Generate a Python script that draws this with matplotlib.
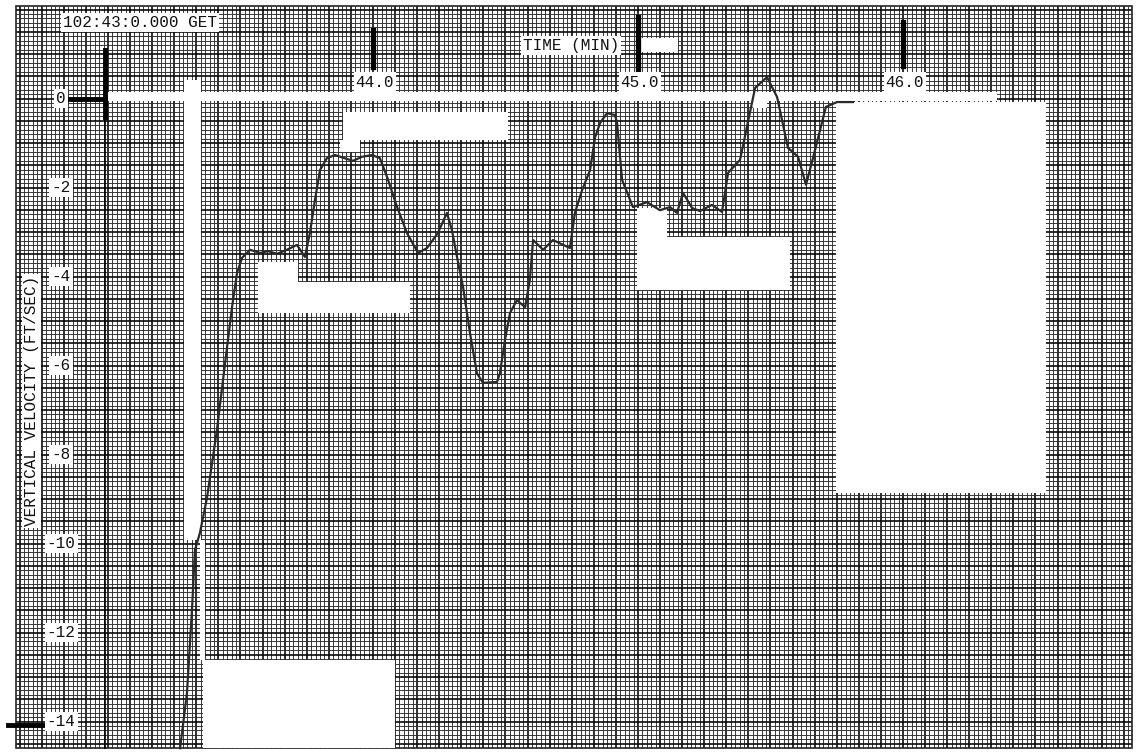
# vertikalni rychlost pri pristani - skenovany graf na milimetrovem papire
import numpy as np
import matplotlib.pyplot as plt
from matplotlib.patches import Rectangle

# cas [min od 102:00 GET] a vertikalni rychlost [ft/s]
time_min = [43.272, 43.298, 43.317, 43.328, 43.347, 43.374, 43.411, 43.442, 43.468, 43.487,
            43.506, 43.536, 43.574, 43.604, 43.638, 43.675, 43.713, 43.743, 43.762, 43.781,
            43.800, 43.826, 43.857, 43.902, 43.925, 43.958, 43.996, 44.026, 44.053, 44.091,
            44.128, 44.170, 44.204, 44.245, 44.279, 44.298, 44.317, 44.340, 44.366, 44.392,
            44.415, 44.468, 44.479, 44.498, 44.517, 44.543, 44.574, 44.592, 44.604, 44.642,
            44.679, 44.743, 44.762, 44.789, 44.819, 44.838, 44.857, 44.883, 44.913, 44.921,
            44.940, 44.981, 45.034, 45.083, 45.121, 45.147, 45.170, 45.204, 45.234, 45.279,
            45.317, 45.340, 45.385, 45.442, 45.487, 45.525, 45.566, 45.604, 45.634, 45.668,
            45.709, 45.751, 45.811]
vel_fps = [-14.60, -13.36, -11.49, -10.15, -9.76, -8.96, -7.45, -5.94, -4.69, -3.92,
           -3.58, -3.40, -3.47, -3.43, -3.49, -3.40, -3.29, -3.56, -3.02, -2.28,
           -1.61, -1.34, -1.27, -1.36, -1.40, -1.31, -1.27, -1.34, -1.76, -2.44,
           -3.02, -3.47, -3.36, -3.02, -2.57, -2.96, -3.56, -4.24, -5.27, -6.17,
           -6.39, -6.37, -6.17, -5.43, -4.82, -4.53, -4.69, -4.08, -3.18, -3.40,
           -3.18, -3.36, -2.57, -2.06, -1.61, -0.87, -0.55, -0.33, -0.37, -0.55,
           -1.83, -2.44, -2.33, -2.51, -2.44, -2.57, -2.12, -2.46, -2.53, -2.39,
           -2.55, -1.67, -1.38, 0.24, 0.48, 0.03, -1.11, -1.31, -1.94, -1.16,
           -0.19, -0.08, -0.08]

# popisky os
x_ticks = [44.0, 45.0, 46.0]
x_tick_labels = ['44.0', '45.0', '46.0']
y_ticks = [0, -2, -4, -6, -8, -10, -12, -14]
y_tick_labels = ['0', '-2', '-4', '-6', '-8', '-10', '-12', '-14']

# vybelene oblasti na skenu: (x0, x1, y0, y1)
white_boxes = [
    (43.287, 43.351, -9.92, 0.42),
    (43.349, 43.366, -12.62, -9.92),
    (42.993, 46.355, -0.056, 0.146),
    (43.887, 44.509, -0.933, -0.303),
    (43.875, 43.951, -1.20, -0.933),
    (43.566, 43.717, -4.12, -3.67),
    (43.566, 44.140, -4.82, -4.12),
    (44.996, 45.109, -3.11, -2.46),
    (44.996, 45.574, -4.30, -3.11),
    (45.747, 46.540, -8.865, -0.079),
    (43.358, 44.083, -14.60, -12.62),
    (45.008, 45.151, 1.05, 1.36),
    (45.434, 45.487, -0.21, 0.146),
]

# okraje papiru
PX0, PX1 = 42.653, 46.864
PY0, PY1 = -14.596, 2.079

fig = plt.figure(figsize=(11.38, 7.54), dpi=100)
ax = fig.add_axes([0, 0, 1, 1])
ax.set_xlim(42.5925, 46.8868)
ax.set_ylim(-14.730, 2.2135)
ax.axis('off')

# mrizka - po 1 s a 0.1 ft/s, silnejsi po 5 s a 0.5 ft/s
secs = np.arange(np.ceil(PX0 * 60), np.floor(PX1 * 60) + 1)
ax.vlines(secs[secs % 5 != 0] / 60, PY0, PY1, colors='#2c2c2c', lw=0.65, zorder=1)
ax.vlines(secs[secs % 5 == 0] / 60, PY0, PY1, colors='#0a0a0a', lw=1.2, zorder=1)
tenths = np.arange(np.ceil(PY0 * 10), np.floor(PY1 * 10) + 1)
ax.hlines(tenths[tenths % 5 != 0] / 10, PX0, PX1, colors='#2c2c2c', lw=0.65, zorder=1)
ax.hlines(tenths[tenths % 5 == 0] / 10, PX0, PX1, colors='#0a0a0a', lw=1.2, zorder=1)
ax.add_patch(Rectangle((PX0, PY0), PX1 - PX0, PY1 - PY0, fc='none', ec='#222222', lw=1.2, zorder=2))

for x0, x1, y0, y1 in white_boxes:
    ax.add_patch(Rectangle((x0, y0), x1 - x0, y1 - y0, fc='white', ec='none', zorder=3))

# osa y
ax.plot([42.987, 42.987], [PY0, 1.09], color='black', lw=1.2, zorder=4)
ax.plot([42.987, 42.987], [-0.42, 1.09], color='black', lw=3.5, zorder=4)
ax.plot([42.849, 42.987], [0, 0], color='black', lw=3.5, zorder=4)
ax.plot([42.623, 42.770], [-14.08, -14.08], color='black', lw=3.5, zorder=4)

# znacky na ose x
tick_tops = [1.54, 1.83, 1.72]
tick_bots = [0.71, 0.60, 0.73]
for xt, t, b in zip(x_ticks, tick_tops, tick_bots):
    ax.plot([xt, xt], [b, t], color='black', lw=3.8, zorder=4)

# prubeh rychlosti
ax.plot(time_min, vel_fps, color='#2a2a2a', lw=1.6, zorder=5)

font = dict(family='Liberation Mono', fontsize=11.5, color='#111111', zorder=6)
box = dict(fc='white', ec='none', pad=1.5)

for xt, lab in zip(x_ticks, x_tick_labels):
    ax.text(xt + 0.007, 0.37, lab, ha='center', va='center', bbox=box, **font)
for yt, lab in zip(y_ticks, y_tick_labels):
    ax.text(42.823, yt, lab, ha='center', va='center', bbox=box, **font)

ax.text(43.121, 1.70, '102:43:0.000 GET', ha='center', va='center', bbox=box, **font)
ax.text(44.747, 1.20, 'TIME (MIN)', ha='center', va='center', bbox=box, **font)
ax.text(42.711, -6.80, 'VERTICAL VELOCITY (FT/SEC)', ha='center', va='center',
        rotation=90, bbox=box, **font)

fig.savefig('out.png', dpi=100)
